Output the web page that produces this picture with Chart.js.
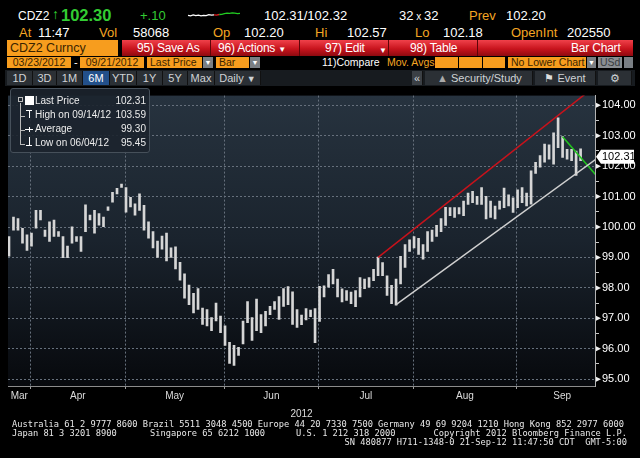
<!DOCTYPE html>
<html>
<head>
<meta charset="utf-8">
<script src="https://cdn.jsdelivr.net/npm/chart.js@4.4.0/dist/chart.umd.min.js"></script>
<style>
  body { margin: 0; width: 640px; height: 458px; background: #000; position: relative; overflow: hidden;
         font-family: "Liberation Sans", Arial, sans-serif; color: #fff; }
  .t { position: absolute; white-space: nowrap; line-height: 1; }
  .r1 { top: 9px; font-size: 13px; }
  .r2 { top: 26px; font-size: 13px; }
  .o { color: #f5a623; }
  .g { color: #33cc33; }
  .box { position: absolute; box-sizing: border-box; white-space: nowrap; }
  .ob { background: #f79d1e; color: #3a2400; font-size: 10.5px; line-height: 11px; padding-left: 3px; }
  .dd { background: #7a7f84; color: #fff; font-size: 7px; line-height: 11px; text-align: center; }
  .red { position: absolute; left: 122px; top: 40px; width: 511px; height: 16px;
         background: linear-gradient(#f0414a, #c8141d 55%, #8e0a10); }
  .rt { position: absolute; top: 2px; font-size: 12px; line-height: 13px; color: #fff; letter-spacing: -0.2px; }
  .sep { position: absolute; top: 0; width: 1px; height: 16px; background: #5e0508; }
  .btn { position: absolute; top: 71px; height: 14px; background: #2b3035; color: #cfd3d6; font-size: 11px;
         line-height: 14px; text-align: center; border-right: 1px solid #111; box-sizing: border-box; }
  #legend { position: absolute; left: 10px; top: 88px; width: 140px; height: 65px; box-sizing: border-box;
            background: rgba(28,36,45,0.9); border: 1px solid #46505a; border-radius: 3px; }
  .lr { position: absolute; left: 24px; right: 3px; font-size: 10px; line-height: 12px; color: #ececec; }
  .lr .v { position: absolute; right: 0; top: 0; }
  .foot { position: absolute; left: 12px; font-family: "DejaVu Sans Mono", monospace; font-size: 8.7px;
          line-height: 9px; color: #e8e8e8; white-space: pre; }
</style>
</head>
<body>

<!-- quote rows -->
<div class="t r1" style="left:18px;font-size:12px;top:10px">CDZ2</div>
<div class="t g" style="left:52px;top:7px;font-size:14px">&#8593;</div>
<div class="t g" style="left:61px;top:7px;font-size:16.5px;font-weight:bold">102.30</div>
<div class="t r1 g" style="left:140px">+.10</div>
<canvas id="spark" width="54" height="13" style="position:absolute;left:187px;top:8px"></canvas>
<div class="t r1" style="left:264px">102.31/102.32</div>
<div class="t r1" style="left:399px">32<span style="font-size:10px"> x </span>32</div>
<div class="t r1 o" style="left:469px">Prev</div>
<div class="t r1" style="left:506px">102.20</div>

<div class="t r2 o" style="left:19px">At</div>
<div class="t r2" style="left:38px">11:47</div>
<div class="t r2 o" style="left:99px">Vol</div>
<div class="t r2" style="left:133px">58068</div>
<div class="t r2 o" style="left:213px">Op</div>
<div class="t r2" style="left:244px">102.20</div>
<div class="t r2 o" style="left:315px">Hi</div>
<div class="t r2" style="left:347px">102.57</div>
<div class="t r2 o" style="left:415px">Lo</div>
<div class="t r2" style="left:443px">102.18</div>
<div class="t r2 o" style="left:511px">OpenInt</div>
<div class="t r2" style="left:567px">202550</div>

<!-- toolbar -->
<div class="box" style="left:7px;top:40px;width:111px;height:16px;background:#f79d1e;color:#3a2400;font-size:12.5px;line-height:16px;padding-left:3px">CDZ2 Curncy</div>
<div class="red">
  <div class="rt" style="left:15px">95) Save As</div>
  <div class="sep" style="left:88px"></div>
  <div class="rt" style="left:96px">96) Actions <span style="font-size:8px">&#9660;</span></div>
  <div class="sep" style="left:177px"></div>
  <div class="rt" style="left:203px">97) Edit</div>
  <div class="rt" style="left:257px;font-size:8px;top:4px">&#9660;</div>
  <div class="sep" style="left:266px"></div>
  <div class="rt" style="left:288px">98) Table</div>
  <div class="sep" style="left:355px"></div>
  <div class="rt" style="left:449px">Bar Chart</div>
</div>

<div class="box ob" style="left:7px;top:57px;width:64px;height:11px;text-align:center;padding:0">03/23/2012</div>
<div class="t" style="left:74px;top:57px;font-size:11px">-</div>
<div class="box ob" style="left:80px;top:57px;width:64px;height:11px;text-align:center;padding:0">09/21/2012</div>
<div class="box ob" style="left:147px;top:57px;width:55px;height:11px">Last Price</div>
<div class="box dd" style="left:203px;top:57px;width:10px;height:11px">&#9660;</div>
<div class="box ob" style="left:216px;top:57px;width:33px;height:11px">Bar</div>
<div class="box dd" style="left:250px;top:57px;width:10px;height:11px">&#9660;</div>
<div class="t" style="left:322px;top:57px;font-size:10.5px">11)Compare</div>
<div class="t o" style="left:387px;top:57px;font-size:10.5px">Mov. Avgs</div>
<div class="box ob" style="left:435px;top:57px;width:23px;height:11px"></div>
<div class="box ob" style="left:459px;top:57px;width:23px;height:11px"></div>
<div class="box ob" style="left:483px;top:57px;width:22px;height:11px"></div>
<div class="box ob" style="left:508px;top:57px;width:78px;height:11px">No Lower Chart</div>
<div class="box dd" style="left:587px;top:57px;width:9px;height:11px">&#9660;</div>
<div class="box" style="left:598px;top:57px;width:24px;height:11px;background:#8a8e92;color:#3a3d40;font-size:10.5px;line-height:11px;padding-left:2px">USd</div>
<div class="box dd" style="left:624px;top:57px;width:9px;height:11px"></div>

<div class="box" style="left:5px;top:70px;width:630px;height:16px;background:#171b1f"></div>
<div class="btn" style="left:7px;width:26px">1D</div>
<div class="btn" style="left:33px;width:24px">3D</div>
<div class="btn" style="left:57px;width:26px">1M</div>
<div class="btn" style="left:83px;width:27px;background:#23508a;color:#fff">6M</div>
<div class="btn" style="left:110px;width:27px">YTD</div>
<div class="btn" style="left:137px;width:26px">1Y</div>
<div class="btn" style="left:163px;width:25px">5Y</div>
<div class="btn" style="left:188px;width:27px">Max</div>
<div class="btn" style="left:215px;width:46px">Daily <span style="font-size:9px">&#9660;</span></div>
<div class="btn" style="left:412px;width:11px;background:#3b4045">&#171;</div>
<div class="btn" style="left:425px;width:108px;text-align:left;padding-left:12px"><span style="color:#aaa">&#9650;</span> Security/Study</div>
<div class="btn" style="left:535px;width:61px"><span style="color:#ddd">&#9873;</span> Event</div>
<div class="btn" style="left:598px;width:34px">&#9881;</div>

<!-- chart -->
<canvas id="chart" width="640" height="334" style="position:absolute;left:0;top:86px"></canvas>

<div id="legend">
  <div style="position:absolute;left:7px;top:8px;width:5px;height:5px;border:1px solid #bbb;box-sizing:border-box"></div>
  <div style="position:absolute;left:9px;top:14px;width:1px;height:42px;background:#bbb"></div>
  <div style="position:absolute;left:9px;top:27px;width:5px;height:1px;background:#bbb"></div>
  <div style="position:absolute;left:9px;top:41px;width:5px;height:1px;background:#bbb"></div>
  <div style="position:absolute;left:9px;top:55px;width:5px;height:1px;background:#bbb"></div>
  <div style="position:absolute;left:14px;top:7px;width:9px;height:9px;background:#fff"></div>
  <div style="position:absolute;left:15px;top:21px;width:6px;height:1px;background:#fff"></div>
  <div style="position:absolute;left:18px;top:21px;width:1px;height:8px;background:#fff"></div>
  <div style="position:absolute;left:14px;top:40px;width:8px;height:1px;background:#fff"></div>
  <div style="position:absolute;left:18px;top:38px;width:1px;height:5px;background:#fff"></div>
  <div style="position:absolute;left:18px;top:48px;width:1px;height:8px;background:#fff"></div>
  <div style="position:absolute;left:15px;top:56px;width:6px;height:1px;background:#fff"></div>
  <div class="lr" style="top:6px">Last Price<span class="v" id="lgLast"></span></div>
  <div class="lr" style="top:20px"><span id="lgHighLab"></span><span class="v" id="lgHigh"></span></div>
  <div class="lr" style="top:34px">Average<span class="v" id="lgAvg"></span></div>
  <div class="lr" style="top:48px"><span id="lgLowLab"></span><span class="v" id="lgLow"></span></div>
</div>

<div class="foot" style="top:420px">Australia 61 2 9777 8600 Brazil 5511 3048 4500 Europe 44 20 7330 7500 Germany 49 69 9204 1210 Hong Kong 852 2977 6000</div>
<div class="foot" style="top:429px">Japan 81 3 3201 8900</div>
<div class="foot" style="top:429px;left:150px">Singapore 65 6212 1000</div>
<div class="foot" style="top:429px;left:296px">U.S. 1 212 318 2000</div>
<div class="foot" style="top:429px;left:auto;right:13px">Copyright 2012 Bloomberg Finance L.P.</div>
<div class="foot" style="top:438px;left:auto;right:13px">SN 480877 H711-1348-0 21-Sep-12 11:47:50 CDT  GMT-5:00</div>

<script>
// daily bars, 03/23/2012 .. 09/21/2012 (trading day 1..128)
var highs = [
  99.69, 100.33, 100.28, 99.96, 99.74, 99.80, 100.55, 100.55, 99.90, 100.17,
  100.23, 99.85, 99.69, 99.37, 100.01, 99.69, 99.69, 100.73, 100.39, 100.55,
  100.44, 100.33, 100.66, 101.14, 101.27, 101.41, 101.30, 100.98, 100.76, 101.09,
  100.71, 100.17, 99.85, 99.54, 99.70, 99.80, 99.32, 99.35, 98.84, 98.46,
  98.09, 97.82, 97.98, 97.34, 97.29, 97.02, 97.50, 97.07, 96.75, 96.21,
  96.11, 96.05, 96.91, 97.55, 97.02, 97.63, 97.12, 97.23, 97.39, 97.55,
  97.71, 97.98, 98.04, 97.87, 97.29, 97.11, 97.32, 97.27, 97.32, 98.05,
  98.07, 98.44, 98.61, 98.29, 97.97, 97.91, 97.86, 97.91, 98.34, 98.29,
  98.34, 98.61, 99.01, 98.83, 98.40, 98.08, 98.29, 99.04, 99.42, 99.58,
  99.69, 99.63, 99.42, 99.85, 99.90, 100.06, 100.28, 100.65, 100.64, 100.64,
  100.64, 100.85, 101.12, 101.17, 101.01, 101.30, 101.01, 100.85, 100.69, 100.85,
  101.28, 101.06, 100.96, 101.22, 101.30, 101.12, 101.85, 102.13, 102.35, 102.73,
  102.70, 103.10, 103.59, 102.97, 102.55, 102.55, 102.50, 102.57
];
var lows = [
  99.04, 99.90, 99.90, 99.47, 99.23, 99.37, 99.96, 100.23, 99.69, 99.53,
  99.69, 99.69, 98.99, 98.99, 99.47, 99.53, 99.20, 99.85, 100.23, 99.80,
  100.06, 100.01, 100.55, 100.82, 101.09, 101.30, 100.49, 100.66, 100.39, 100.55,
  99.90, 99.63, 99.31, 99.00, 99.27, 98.89, 99.00, 98.62, 98.25, 97.66,
  97.45, 97.18, 97.29, 96.80, 96.75, 96.59, 96.91, 96.53, 96.11, 95.52,
  95.45, 95.78, 96.16, 96.86, 96.27, 96.59, 96.53, 96.75, 97.12, 97.29,
  96.96, 97.39, 97.45, 96.80, 96.70, 96.79, 96.95, 97.05, 96.20, 96.90,
  97.70, 98.02, 98.13, 97.70, 97.54, 97.59, 97.48, 97.38, 97.70, 97.97,
  98.02, 98.24, 98.40, 98.40, 97.75, 97.48, 97.43, 98.13, 98.67, 99.20,
  99.31, 99.10, 98.94, 99.20, 99.53, 99.69, 99.85, 100.05, 100.37, 100.32,
  100.43, 100.37, 100.74, 100.80, 100.74, 100.74, 100.27, 100.32, 100.27, 100.59,
  100.64, 100.69, 100.48, 100.64, 100.80, 100.69, 100.75, 101.76, 101.97, 102.13,
  102.23, 102.07, 102.61, 102.29, 102.23, 102.18, 101.70, 102.18
];
var monthNames = ["Mar", "Apr", "May", "Jun", "Jul", "Aug", "Sep"];
var monthFirstBar = [1, 7, 28, 50, 71, 92, 115];
var priceTicks = [95, 96, 97, 98, 99, 100, 101, 102, 103, 104];

var lastPrice = 102.31;
var highInfo = { date: "09/14/12", value: 103.59 };
var lowInfo = { date: "06/04/12", value: 95.45 };
var average = 99.30;

// trend lines drawn on the chart: [bar, price]
var redTrend = [[83, 99.00], [129.7, 104.45]];
var whiteTrend = [[87, 97.45], [131.3, 102.22]];
var greenTrend = [[124, 102.97], [131.3, 101.73]];

// intraday sparkline in the header
var sparkValues = [102.21, 102.19, 102.23, 102.20, 102.22, 102.19, 102.21, 102.20, 102.24, 102.22,
                   102.23, 102.22, 102.25, 102.26, 102.29, 102.31, 102.30, 102.32, 102.31, 102.29, 102.30];

document.getElementById("lgLast").textContent = lastPrice.toFixed(2);
document.getElementById("lgHighLab").textContent = "High on " + highInfo.date;
document.getElementById("lgHigh").textContent = highInfo.value.toFixed(2);
document.getElementById("lgAvg").textContent = average.toFixed(2);
document.getElementById("lgLowLab").textContent = "Low on " + lowInfo.date;
document.getElementById("lgLow").textContent = lowInfo.value.toFixed(2);

// month separators sit just before the first bar of the month, labels centred in the month
var gridPos = monthFirstBar.slice(1).map(function (b) { return b - 1.2; });
var bounds = [0.78].concat(gridPos, [134]);
var labelPos = monthNames.map(function (m, i) { return (bounds[i] + bounds[i + 1]) / 2; });
function isGrid(v) { return gridPos.some(function (g) { return Math.abs(g - v) < 1e-6; }); }
function monthAt(v) {
  for (var i = 0; i < labelPos.length; i++) if (Math.abs(labelPos[i] - v) < 1e-6) return monthNames[i];
  return "";
}

var panelBg = {
  id: "panelBg",
  beforeDraw: function (chart) {
    var a = chart.chartArea, ctx = chart.ctx;
    var g = ctx.createLinearGradient(0, a.top, 0, a.bottom);
    g.addColorStop(0, "#27333f");
    g.addColorStop(0.5, "#1a232d");
    g.addColorStop(1, "#07090d");
    ctx.save();
    ctx.fillStyle = g;
    ctx.fillRect(a.left, a.top, a.right - a.left, a.bottom - a.top);
    ctx.restore();
  }
};

var axisMarks = {
  id: "axisMarks",
  afterDraw: function (chart) {
    var ctx = chart.ctx, y = chart.scales.y, x0 = chart.chartArea.right;
    ctx.save();
    ctx.fillStyle = "#f0f0f0";
    priceTicks.forEach(function (v) {
      var py = y.getPixelForValue(v);
      ctx.beginPath();
      ctx.moveTo(x0 + 1, py - 2.5);
      ctx.lineTo(x0 + 6, py);
      ctx.lineTo(x0 + 1, py + 2.5);
      ctx.closePath();
      ctx.fill();
    });
    // last price tag
    var ty = y.getPixelForValue(lastPrice);
    ctx.fillStyle = "#ffffff";
    ctx.beginPath();
    ctx.moveTo(x0 + 1, ty);
    ctx.lineTo(x0 + 6, ty - 7);
    ctx.lineTo(x0 + 39, ty - 7);
    ctx.lineTo(x0 + 39, ty + 7);
    ctx.lineTo(x0 + 6, ty + 7);
    ctx.closePath();
    ctx.fill();
    ctx.fillStyle = "#000";
    ctx.font = "11px 'Liberation Sans', Arial, sans-serif";
    ctx.textBaseline = "middle";
    ctx.fillText(lastPrice.toFixed(2), x0 + 7, ty + 0.5);
    ctx.restore();
  }
};

function trend(pts, color) {
  return {
    type: "line",
    data: pts.map(function (p) { return { x: p[0], y: p[1] }; }),
    borderColor: color,
    borderWidth: 1.5,
    pointRadius: 0,
    order: 1
  };
}

var FONT = "'Liberation Sans', Arial, sans-serif";

new Chart(document.getElementById("chart").getContext("2d"), {
  type: "bar",
  data: {
    datasets: [
      {
        type: "bar",
        data: highs.map(function (h, i) { return { x: i + 1, y: [lows[i], h] }; }),
        backgroundColor: "#d6d6d6",
        barThickness: 2,
        order: 2
      },
      trend(redTrend, "#c8121b"),
      trend(whiteTrend, "#d0d0d0"),
      trend(greenTrend, "#22c41e")
    ]
  },
  options: {
    responsive: false,
    animation: false,
    layout: { padding: { left: 8, top: 2, right: 0, bottom: 0 } },
    plugins: { legend: { display: false }, tooltip: { enabled: false } },
    scales: {
      x: {
        type: "linear",
        offset: false,
        min: 0.78,
        max: 131.2,
        afterBuildTicks: function (s) {
          s.ticks = gridPos.concat(labelPos).sort(function (a, b) { return a - b; })
            .map(function (v) { return { value: v }; });
        },
        afterFit: function (s) { s.height = 34; },
        grid: {
          offset: false,
          color: function (c) { return c.tick && isGrid(c.tick.value) ? "#66707c" : "rgba(0,0,0,0)"; },
          tickColor: function (c) { return c.tick && isGrid(c.tick.value) ? "#a0a0a0" : "rgba(0,0,0,0)"; },
          tickLength: 3,
          lineWidth: 1
        },
        border: { display: true, color: "#8c8c8c", dash: [2, 2] },
        ticks: {
          autoSkip: false,
          maxRotation: 0,
          padding: 1,
          color: "#dcdcdc",
          font: { family: FONT, size: 10 },
          callback: function (v) { return monthAt(v); }
        },
        title: { display: true, text: "2012", color: "#dcdcdc", font: { family: FONT, size: 10 }, padding: { top: 3, bottom: 0 } }
      },
      y: {
        position: "right",
        min: 94.775,
        max: 104.32,
        afterBuildTicks: function (s) {
          var t = [];
          priceTicks.forEach(function (v, i) {
            t.push({ value: v });
            if (i < priceTicks.length - 1) t.push({ value: v + 0.5 });
          });
          s.ticks = t;
        },
        afterFit: function (s) { s.width = 45; },
        grid: {
          color: function (c) { return c.tick && c.tick.value % 1 === 0 ? "#66707c" : "rgba(0,0,0,0)"; },
          tickColor: "#c8c8c8",
          tickLength: 4,
          lineWidth: 1
        },
        border: { display: true, color: "#b4b4b4", dash: [2, 2] },
        ticks: {
          autoSkip: false,
          padding: 3,
          color: "#ffffff",
          font: { family: FONT, size: 11 },
          callback: function (v) { return v % 1 === 0 ? v.toFixed(2) : ""; }
        }
      }
    }
  },
  plugins: [panelBg, axisMarks]
});

// header sparkline
new Chart(document.getElementById("spark").getContext("2d"), {
  type: "line",
  data: {
    labels: sparkValues.map(function (v, i) { return i; }),
    datasets: [{
      data: sparkValues,
      borderWidth: 1.3,
      pointRadius: 0,
      segment: {
        borderColor: function (c) { return c.p0DataIndex < 10 ? "#ffffff" : (c.p0DataIndex < 12 ? "#e02020" : "#22cc22"); }
      }
    }]
  },
  options: {
    responsive: false,
    animation: false,
    layout: { padding: 1 },
    plugins: { legend: { display: false }, tooltip: { enabled: false } },
    scales: { x: { display: false }, y: { display: false } }
  }
});
</script>
</body>
</html>
